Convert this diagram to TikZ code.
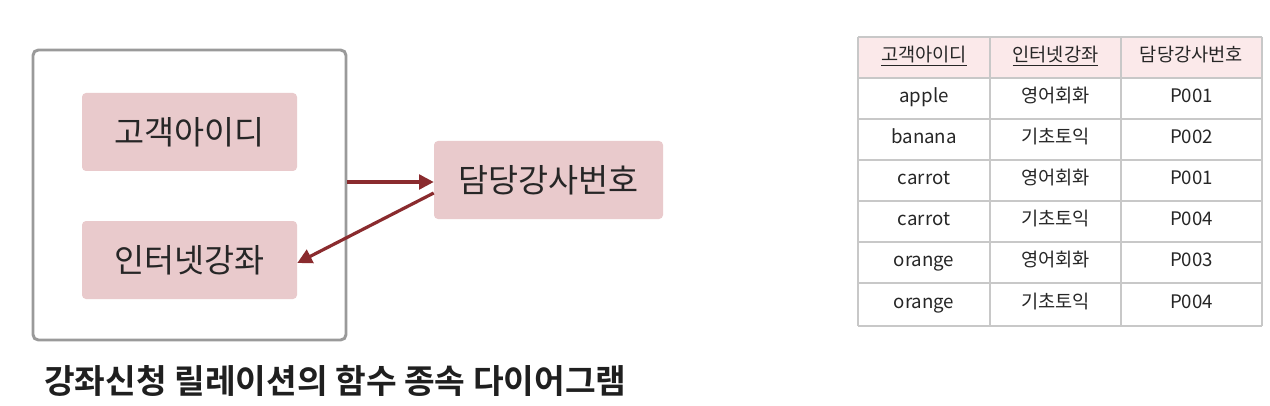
\documentclass[tikz,border=0pt]{standalone}
\usepackage{fontspec}
\setmainfont{Noto Sans CJK KR}
\newfontfamily\kbold{Noto Sans CJK KR Bold}
\newfontfamily\kmed{Noto Sans CJK KR Medium}
\usetikzlibrary{arrows.meta}
\definecolor{boxpink}{HTML}{E9CACC}
\definecolor{headpink}{HTML}{FBE9EA}
\definecolor{arrowred}{HTML}{8A2B2E}
\definecolor{framegray}{HTML}{9A9A9A}
\definecolor{gridgray}{HTML}{C8C8C8}
\begin{document}
\begin{tikzpicture}[x=0.75pt,y=-0.75pt,
  attr/.style={fill=boxpink,rounded corners=3pt,minimum width=161.25pt,minimum height=58.5pt,inner sep=0pt,font=\fontsize{24.5}{28}\selectfont,text=black!85},
  dep/.style={draw=arrowred,line width=2.4pt,-{Triangle[length=11pt,width=11pt]}},
  cell/.style={minimum width=98pt,minimum height=30.75pt,inner sep=0pt,text height=1.45ex,text depth=.3ex,font=\fontsize{14}{16}\selectfont,text=black!85}
]
\useasboundingbox (0,0) rectangle (1270,406);
\fill[white] (0,0) rectangle (1270,406);
% outer frame
\node[draw=framegray,line width=2.2pt,rounded corners=4pt,minimum width=234.75pt,minimum height=217.5pt,inner sep=0pt] (frame) at (189.5,195) {};
\node[attr] (id) at (189.5,132) {고객아이디};
\node[attr] (course) at (189.5,260) {인터넷강좌};
\node[attr,minimum width=171.75pt] (prof) at (548.5,180) {담당강사번호};
\coordinate (a1s) at (frame.east |- 0,182);
\draw[dep] (a1s) -- (prof.west |- a1s);
\coordinate (a2s) at (prof.west |- 0,193);
\draw[dep] (a2s) -- (course.east |- 0,263);
\node[anchor=west,font=\kbold\fontsize{25}{28}\selectfont,text=black!88,inner sep=0pt] (cap) at (44,381) {강좌신청 릴레이션의 함수 종속 다이어그램};
% table
\fill[headpink] (858,37) rectangle (1262,78);
\foreach \y in {37,78,119,160,201,242,283,326} \draw[gridgray,line width=0.8pt] (858,\y) -- (1262,\y);
\foreach \x in {858,990,1121,1262} \draw[gridgray,line width=0.8pt] (\x,37) -- (\x,326);
\node[cell] (h1) at (924,57.5) {\underline{고객아이디}};
\node[cell] (h2) at (1055.5,57.5) {\underline{인터넷강좌}};
\node[cell] (h3) at (1191.5,57.5) {담당강사번호};
\node[cell] (r1a) at (924,98.5) {apple};
\node[cell] (r1b) at (1055.5,98.5) {영어회화};
\node[cell] (r1c) at (1191.5,98.5) {P001};
\node[cell] (r2a) at (924,139.5) {banana};
\node[cell] (r2b) at (1055.5,139.5) {기초토익};
\node[cell] (r2c) at (1191.5,139.5) {P002};
\node[cell] (r3a) at (924,180.5) {carrot};
\node[cell] (r3b) at (1055.5,180.5) {영어회화};
\node[cell] (r3c) at (1191.5,180.5) {P001};
\node[cell] (r4a) at (924,221.5) {carrot};
\node[cell] (r4b) at (1055.5,221.5) {기초토익};
\node[cell] (r4c) at (1191.5,221.5) {P004};
\node[cell] (r5a) at (924,262.5) {orange};
\node[cell] (r5b) at (1055.5,262.5) {영어회화};
\node[cell] (r5c) at (1191.5,262.5) {P003};
\node[cell] (r6a) at (924,304.5) {orange};
\node[cell] (r6b) at (1055.5,304.5) {기초토익};
\node[cell] (r6c) at (1191.5,304.5) {P004};
\end{tikzpicture}
\end{document}
